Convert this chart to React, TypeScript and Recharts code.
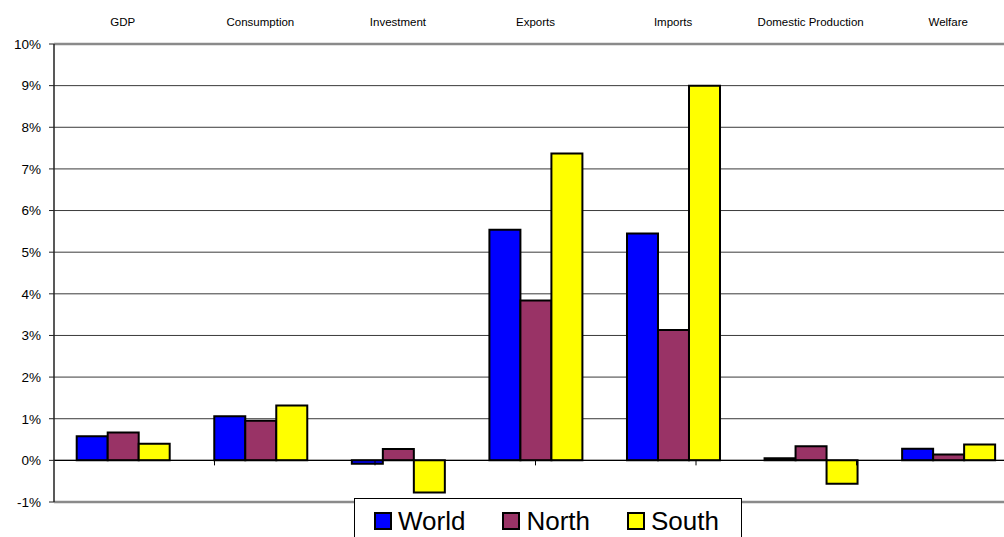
import { Bar, BarChart, CartesianGrid, Legend, ReferenceLine, XAxis, YAxis } from "recharts";

const categories = [
  "GDP",
  "Consumption",
  "Investment",
  "Exports",
  "Imports",
  "Domestic Production",
  "Welfare",
];

// percentage change by region
const world = [0.58, 1.06, -0.08, 5.54, 5.45, 0.05, 0.28];
const north = [0.67, 0.95, 0.27, 3.84, 3.13, 0.34, 0.14];
const south = [0.4, 1.32, -0.77, 7.37, 9.0, -0.56, 0.38];

const yTicks = [-1, 0, 1, 2, 3, 4, 5, 6, 7, 8, 9, 10];
const dividers = [1, 2, 3, 4, 5, 6];

const series = [
  { key: "world", name: "World", color: "#0000ff" },
  { key: "north", name: "North", color: "#993366" },
  { key: "south", name: "South", color: "#ffff00" },
];

const data = categories.map((name, i) => ({
  name,
  world: world[i],
  north: north[i],
  south: south[i],
}));

const FONT = "Arial, 'Liberation Sans', sans-serif";

function CategoryTick({ x, y, payload }: any) {
  return (
    <text x={x} y={y - 10} textAnchor="middle" fontSize={11.5} fontFamily={FONT} fill="#000">
      {payload.value}
    </text>
  );
}

function LegendBox() {
  return (
    <div
      style={{
        boxSizing: "border-box",
        width: "100%",
        height: "100%",
        border: "1px solid #000",
        background: "#fff",
        display: "flex",
        alignItems: "flex-start",
        paddingLeft: 19,
        paddingTop: 8,
        gap: 37,
        fontFamily: FONT,
        fontSize: 26,
        color: "#000",
      }}
    >
      {series.map((s) => (
        <span key={s.key} style={{ display: "inline-flex", alignItems: "center", lineHeight: "28px" }}>
          <span
            style={{
              boxSizing: "border-box",
              width: 18,
              height: 18,
              background: s.color,
              border: "2px solid #000",
              marginRight: 6,
              display: "inline-block",
            }}
          />
          {s.name}
        </span>
      ))}
    </div>
  );
}

export default function App() {
  return (
    <div
      style={{
        position: "absolute",
        left: 0,
        top: 0,
        width: 1004,
        height: 537,
        overflow: "hidden",
        background: "#fff",
      }}
    >
      <BarChart
        width={1017}
        height={537}
        data={data}
        margin={{ top: 0, right: 0, bottom: 35, left: 0 }}
        barCategoryGap="16.5%"
        barGap={0}
      >
        <CartesianGrid horizontal vertical={false} stroke="#3a3a3a" strokeWidth={1} />
        <XAxis
          dataKey="name"
          orientation="top"
          height={44}
          axisLine={false}
          tickLine={false}
          tick={<CategoryTick />}
          interval={0}
        />
        <XAxis xAxisId="edge" type="number" domain={[0, 7]} hide allowDataOverflow />
        <YAxis
          width={54}
          domain={[-1, 10]}
          ticks={yTicks}
          interval={0}
          allowDataOverflow
          tickFormatter={(v: number) => `${v}%`}
          tickSize={5}
          tickMargin={8}
          axisLine={{ stroke: "#222", strokeWidth: 1.5 }}
          tickLine={{ stroke: "#222" }}
          tick={{ fontSize: 13.5, fontFamily: FONT, fill: "#000" }}
        />
        <ReferenceLine y={10} stroke="#8a8a8a" strokeWidth={2.5} />
        <ReferenceLine y={-1} stroke="#8a8a8a" strokeWidth={2.5} />
        {series.map((s) => (
          <Bar
            key={s.key}
            dataKey={s.key}
            name={s.name}
            fill={s.color}
            stroke="#000"
            strokeWidth={2}
            isAnimationActive={false}
          />
        ))}
        <ReferenceLine y={0} stroke="#000" strokeWidth={1.2} />
        {dividers.map((d) => (
          <ReferenceLine
            key={d}
            xAxisId="edge"
            segment={[
              { x: d, y: 0 },
              { x: d, y: -0.12 },
            ]}
            stroke="#000"
            strokeWidth={1}
          />
        ))}
        <Legend
          layout="horizontal"
          verticalAlign="middle"
          align="center"
          content={<LegendBox />}
          wrapperStyle={{ left: 354, top: 498, width: 388, height: 50 }}
        />
      </BarChart>
    </div>
  );
}
